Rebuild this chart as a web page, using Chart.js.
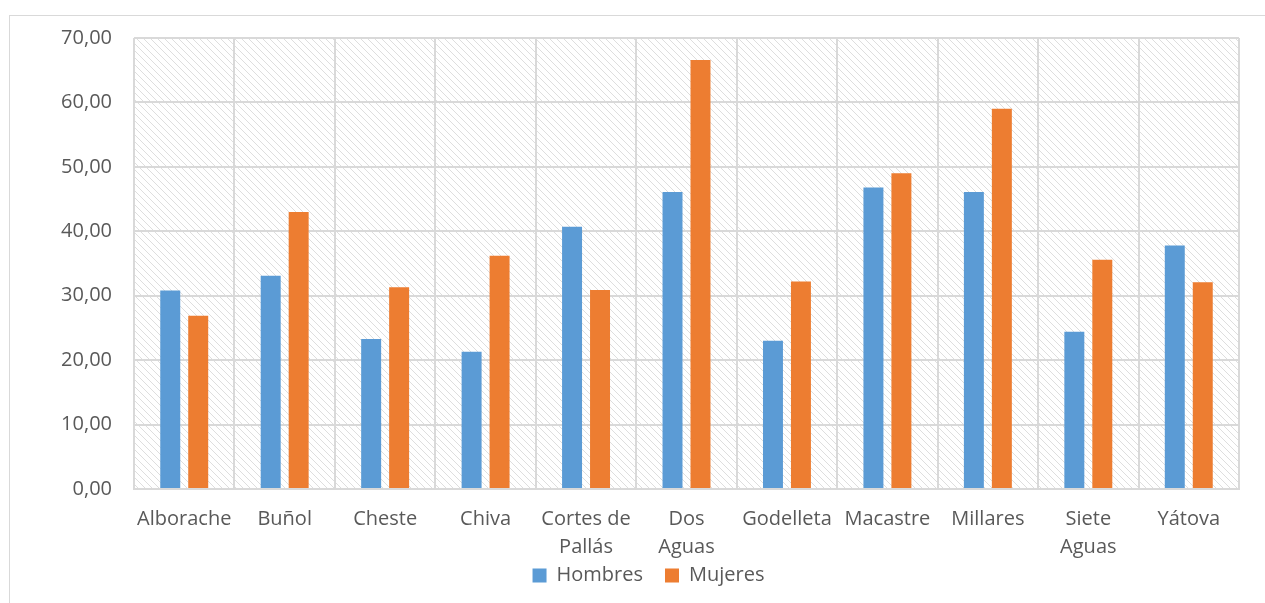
<!DOCTYPE html>
<html>
<head>
<meta charset="utf-8">
<script src="https://cdn.jsdelivr.net/npm/chart.js@4/dist/chart.umd.min.js"></script>
<style>
  body { margin: 0; background: #fff; }
  #wrap { position: relative; width: 1265px; height: 603px; overflow: hidden; }
  #frame { position: absolute; left: 9px; top: 15px; width: 1400px; height: 800px; border-left: 1px solid #d9d9d9; border-top: 1px solid #d9d9d9; }
  canvas { position: absolute; left: 0; top: 0; }
</style>
</head>
<body>
<div id="wrap">
  <div id="frame"></div>
  <canvas id="myChart" width="1265" height="603"></canvas>
</div>
<script>
var municipios = ['Alborache', 'Buñol', 'Cheste', 'Chiva', ['Cortes de', 'Pallás'], ['Dos', 'Aguas'],
  'Godelleta', 'Macastre', 'Millares', ['Siete', 'Aguas'], 'Yátova'];
var hombres = [30.8, 33.1, 23.3, 21.3, 40.7, 46.1, 23.0, 46.8, 46.1, 24.4, 37.8];
var mujeres = [26.9, 43.0, 31.3, 36.2, 30.9, 66.6, 32.2, 49.0, 59.0, 35.6, 32.1];
var yMin = 0, yMax = 70, yStep = 10;

var fontFam = "'Open Sans', 'Noto Sans', sans-serif";
var grey = '#595959';

// trama diagonal del fondo
var hatch = null;
function makeHatch(g0) {
  var c = document.createElement('canvas');
  c.width = 7; c.height = 7;
  var g = c.getContext('2d');
  g.strokeStyle = '#dedede';
  g.lineWidth = 1;
  g.beginPath();
  g.moveTo(-1, -1); g.lineTo(8, 8);
  g.moveTo(-1, 6); g.lineTo(1, 8);
  g.moveTo(6, -1); g.lineTo(8, 1);
  g.stroke();
  return g0.createPattern(c, 'repeat');
}

var hatchBg = {
  id: 'hatchBg',
  beforeDraw: function(chart) {
    var a = chart.chartArea;
    var ctx = chart.ctx;
    if (!hatch) hatch = makeHatch(ctx);
    ctx.save();
    ctx.fillStyle = hatch;
    ctx.fillRect(a.left, a.top, a.right - a.left, a.bottom - a.top);
    ctx.restore();
  }
};

// mover la leyenda un poco (arriba y a la derecha)
var legendShift = {
  id: 'legendShift',
  afterLayout: function(chart) {
    var l = chart.legend;
    var dy = 576 - (l.top + 22 + 10.5);
    var dx = 29;
    l.top += dy; l.bottom += dy;
    l.left += dx; l.right += dx;
  }
};

var ctx = document.getElementById('myChart').getContext('2d');
var chart = new Chart(ctx, {
  type: 'bar',
  data: {
    labels: municipios,
    datasets: [{
      label: 'Hombres',
      data: hombres,
      backgroundColor: '#5B9BD5',
      barPercentage: 0.714,
      categoryPercentage: 0.557
    }, {
      label: 'Mujeres',
      data: mujeres,
      backgroundColor: '#ED7D31',
      barPercentage: 0.714,
      categoryPercentage: 0.557
    }]
  },
  options: {
    responsive: false,
    animation: false,
    layout: { padding: { left: 0, top: 38, right: 26, bottom: -10 } },
    plugins: {
      legend: {
        position: 'bottom',
        labels: {
          boxWidth: 14, boxHeight: 14, padding: 22,
          color: grey,
          font: { family: fontFam, size: 20 }
        }
      },
      tooltip: { enabled: false }
    },
    scales: {
      x: {
        grid: { color: '#d9d9d9', lineWidth: 2, drawTicks: false },
        border: { color: '#d9d9d9', width: 2 },
        ticks: {
          color: grey, padding: 16, maxRotation: 0, autoSkip: false,
          font: { family: fontFam, size: 20, lineHeight: 1.4 }
        },
        afterFit: function(s) { s.height = 72; }
      },
      y: {
        min: yMin, max: yMax,
        grid: { color: '#d9d9d9', lineWidth: 2, drawTicks: false },
        border: { display: false },
        ticks: {
          stepSize: yStep, color: grey, padding: 22,
          font: { family: fontFam, size: 20 },
          callback: function(v) { return v.toFixed(2).replace('.', ','); }
        },
        afterFit: function(s) { s.width = 134; }
      }
    }
  },
  plugins: [hatchBg, legendShift]
});
</script>
</body>
</html>
